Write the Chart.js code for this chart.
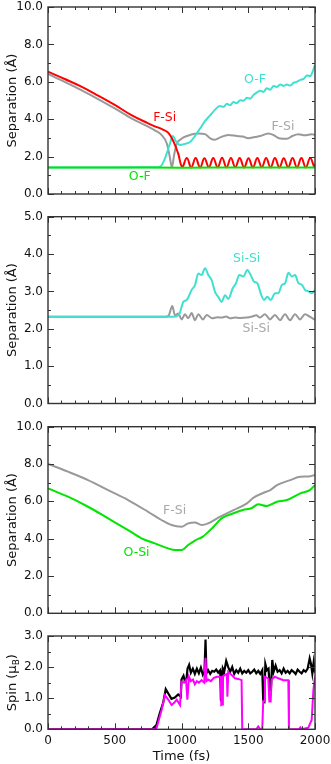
<!DOCTYPE html>
<html>
<head>
<meta charset="utf-8">
<script src="https://cdn.jsdelivr.net/npm/chart.js@4.4.1/dist/chart.umd.min.js"></script>
<style>
html, body { margin: 0; padding: 0; background: #fff; }
#wrap { position: relative; width: 331px; height: 764px; }
#wrap canvas { position: absolute; left: 0; top: 0; }
</style>
</head>
<body>
<div id="wrap">
  <canvas id="c1" width="331" height="764"></canvas>
  <canvas id="c2" width="331" height="764"></canvas>
  <canvas id="c3" width="331" height="764"></canvas>
  <canvas id="c4" width="331" height="764"></canvas>
</div>
<script>
// [time (fs), value] pairs

// panel 1: separations (Å)
const fSiRed = [[0,6.54],[125,6.15],[250,5.74],[375,5.26],[500,4.76],[625,4.22],[750,3.78],[800,3.62],[850,3.48],[900,3.28],[940,2.8],[975,2.17],[1005,1.45],
  [1040,1.92],[1073,1.42],[1106,1.93],[1139,1.42],[1172,1.91],[1205,1.43],[1238,1.93],[1271,1.42],[1304,1.94],[1337,1.42],[1370,1.92],[1403,1.43],
  [1436,1.93],[1469,1.42],[1502,1.91],[1535,1.42],[1568,1.93],[1601,1.43],[1634,1.92],[1667,1.42],[1700,1.93],[1733,1.42],[1766,1.91],[1799,1.43],
  [1832,1.92],[1865,1.42],[1898,1.93],[1931,1.42],[1964,1.92],[1995,1.45],[2000,1.6]];
const fSiGray = [[0,6.42],[125,6.0],[250,5.56],[375,5.08],[500,4.58],[625,4.05],[750,3.6],[800,3.4],[850,3.16],[890,2.7],[912,2.0],[928,1.42],
  [945,2.1],[965,2.7],[990,2.9],[1015,3.03],[1065,3.16],[1125,3.24],[1175,3.2],[1215,2.98],[1250,2.9],[1290,3.03],[1350,3.16],[1415,3.1],[1460,3.07],
  [1500,2.98],[1550,3.05],[1590,3.1],[1650,3.24],[1690,3.15],[1730,2.98],[1790,2.95],[1830,3.1],[1875,3.2],[1925,3.14],[1975,3.2],[2000,3.16]];
const oFCyan = [[0,1.42],[500,1.42],[800,1.43],[840,1.46],[876,1.9],[914,2.71],[935,3.1],[960,2.8],[989,2.62],[1026,2.68],[1064,2.78],[1101,3.1],
  [1139,3.5],[1176,3.9],[1214,4.2],[1250,4.5],[1288,4.7],[1314,4.66],[1340,4.82],[1365,4.75],[1389,4.92],[1414,4.86],[1440,5.02],[1464,4.98],
  [1490,5.15],[1515,5.1],[1540,5.3],[1563,5.42],[1590,5.52],[1615,5.46],[1638,5.65],[1665,5.58],[1690,5.78],[1713,5.72],[1740,5.86],[1765,5.78],
  [1788,5.85],[1815,5.8],[1840,5.95],[1863,6.0],[1890,6.1],[1915,6.16],[1940,6.34],[1965,6.3],[1985,6.6],[2000,6.9]];
const oFGreen = [[0,1.42],[500,1.42],[1000,1.41],[1500,1.42],[2000,1.42]];

// panel 2: Si-Si separations (Å)
const siSiCyan = [[0,2.32],[900,2.32],[960,2.33],[985,2.4],[1014,2.72],[1039,2.77],[1076,3.04],[1101,3.17],[1126,3.48],[1151,3.44],[1176,3.62],
  [1201,3.44],[1226,3.3],[1251,2.99],[1276,2.85],[1301,2.72],[1326,2.9],[1351,2.8],[1383,3.08],[1408,3.22],[1433,3.44],[1463,3.4],[1493,3.57],
  [1518,3.44],[1543,3.26],[1568,3.22],[1593,2.95],[1618,2.77],[1643,2.86],[1668,2.77],[1701,2.95],[1726,2.95],[1751,3.17],[1776,3.22],[1801,3.5],
  [1826,3.4],[1851,3.44],[1876,3.22],[1901,3.18],[1926,3.04],[1951,3.0],[1976,2.95],[2000,3.04]];
const siSiGray = [[0,2.32],[880,2.32],[905,2.36],[931,2.61],[951,2.36],[976,2.41],[1001,2.25],[1026,2.39],[1051,2.28],[1076,2.42],[1101,2.23],
  [1126,2.39],[1160,2.25],[1189,2.37],[1230,2.28],[1270,2.31],[1301,2.3],[1335,2.33],[1363,2.28],[1400,2.3],[1440,2.29],[1488,2.3],[1530,2.33],
  [1560,2.36],[1588,2.3],[1625,2.39],[1663,2.25],[1700,2.37],[1738,2.23],[1775,2.39],[1813,2.23],[1850,2.39],[1888,2.25],[1925,2.39],[1963,2.32],[2000,2.24]];

// panel 3: separations (Å)
const fSi3Gray = [[0,8.0],[150,7.59],[300,7.14],[450,6.6],[600,6.07],[750,5.44],[850,5.0],[925,4.73],[1000,4.64],[1050,4.82],[1100,4.87],
  [1150,4.73],[1200,4.82],[1290,5.18],[1390,5.53],[1490,5.89],[1540,6.2],[1615,6.46],[1665,6.6],[1715,6.87],[1815,7.14],[1890,7.32],[1950,7.33],[2000,7.41]];
const oSiGreen = [[0,6.69],[150,6.25],[300,5.71],[450,5.09],[600,4.46],[700,4.02],[800,3.75],[900,3.48],[950,3.39],[1000,3.39],[1050,3.66],
  [1100,3.9],[1160,4.11],[1240,4.64],[1300,5.09],[1390,5.36],[1460,5.54],[1525,5.63],[1575,5.84],[1640,5.75],[1715,5.98],[1790,6.07],[1890,6.43],[1960,6.6],[2000,6.87]];

// panel 4: spin (μB)
const spinBlack = [[0,0],[780,0],[812,0.14],[837,0.51],[862,0.84],[882,1.29],[900,1.16],[925,0.98],[950,1.02],[975,1.12],[995,1.05],[1000,1.6],
  [1015,1.72],[1025,1.55],[1037,1.6],[1045,1.95],[1057,2.07],[1070,1.82],[1085,1.95],[1100,1.78],[1115,1.95],[1130,1.8],[1145,1.98],[1160,1.75],
  [1172,1.85],[1180,2.89],[1187,1.8],[1200,1.9],[1215,1.78],[1230,1.88],[1245,1.85],[1260,1.92],[1275,1.82],[1290,1.9],[1295,0.94],[1303,0.9],
  [1310,1.95],[1320,1.85],[1335,2.2],[1350,2.0],[1365,1.85],[1380,2.0],[1395,1.78],[1410,1.9],[1425,1.82],[1440,1.95],[1455,1.8],[1470,1.88],
  [1485,1.82],[1500,1.9],[1515,1.8],[1530,1.85],[1545,1.92],[1560,1.8],[1575,1.88],[1590,1.78],[1605,1.9],[1612,0.94],[1620,0.9],[1628,2.1],
  [1640,1.9],[1652,1.95],[1662,1.26],[1670,1.3],[1680,2.23],[1690,1.85],[1705,2.05],[1720,1.85],[1735,1.9],[1750,1.8],[1765,1.95],[1780,1.82],
  [1795,1.88],[1810,1.8],[1825,1.9],[1840,1.85],[1855,1.78],[1870,1.92],[1885,1.85],[1900,1.8],[1915,1.9],[1930,1.85],[1945,1.95],[1960,2.28],
  [1970,2.1],[1980,1.8],[1990,2.15],[2000,1.82]];
const spinMagenta = [[0,0],[790,0],[814,0.05],[851,0.62],[876,1.1],[901,0.95],[926,0.78],[945,0.85],[964,0.95],[989,0.78],[1000,1.53],[1020,1.5],
  [1034,1.58],[1044,0.95],[1056,1.69],[1070,1.55],[1086,1.6],[1100,1.45],[1115,1.55],[1130,1.5],[1150,1.58],[1170,1.5],[1180,2.3],[1187,1.55],
  [1200,1.6],[1220,1.55],[1240,1.65],[1264,1.69],[1294,1.69],[1298,0.78],[1306,0.8],[1310,1.7],[1325,1.74],[1340,1.78],[1344,1.05],[1350,1.85],
  [1375,1.75],[1400,1.64],[1425,1.62],[1450,1.58],[1455,0],[1560,0],[1575,0.09],[1590,0],[1605,0],[1612,0.9],[1618,0.9],[1625,1.69],[1650,1.64],
  [1658,0.89],[1668,0.89],[1675,1.6],[1700,1.69],[1725,1.64],[1763,1.58],[1800,1.58],[1805,0],[1880,0],[1890,0.06],[1900,0],[1950,0.05],
  [1975,0.3],[1988,1.26],[2000,1.69]];

// in-plot labels: [text, time, value, colour]
const tags1 = [['F-Si', 874, 4.1, '#ff0000'], ['O-F', 1551, 6.1, '#40e0d0'], ['F-Si', 1760, 3.57, '#a8a8a8'], ['O-F', 687, 0.93, '#00e600']];
const tags2 = [['Si-Si', 1488, 3.87, '#40e0d0'], ['Si-Si', 1560, 1.99, '#a8a8a8']];
const tags3 = [['F-Si', 948, 5.48, '#a8a8a8'], ['O-Si', 663, 3.25, '#00e600']];

const W = 331, H = 764;
Chart.defaults.font.family = "'DejaVu Sans', sans-serif";
Chart.defaults.color = '#111';

const pts = arr => arr.map(([x, y]) => ({ x, y }));

function line(arr, color, smooth, width) {
    return {
        data: pts(arr),
        borderColor: color,
        borderWidth: width || 2,
        pointRadius: 0,
        fill: false,
        cubicInterpolationMode: smooth === 'monotone' ? 'monotone' : 'default',
        tension: typeof smooth === 'number' ? smooth : 0
    };
}

// box round the plot with inward ticks on all four sides
const framePlugin = {
    id: 'frame',
    afterDatasetsDraw(chart, args, o) {
        const { ctx, chartArea: a, scales: { x, y } } = chart;
        ctx.save();
        ctx.strokeStyle = '#333';
        ctx.lineWidth = 1;
        ctx.beginPath();
        for (let t = 0; t <= 2000; t += 100) {
            const px = Math.round(x.getPixelForValue(t)) + 0.5;
            const len = t % 500 === 0 ? 6 : 3;
            ctx.moveTo(px, a.bottom); ctx.lineTo(px, a.bottom - len);
            ctx.moveTo(px, a.top); ctx.lineTo(px, a.top + len);
        }
        for (let i = 0; i * o.minor <= y.max + 1e-9; i++) {
            const py = Math.round(y.getPixelForValue(i * o.minor)) + 0.5;
            const len = i % o.every === 0 ? 6 : 3;
            ctx.moveTo(a.left, py); ctx.lineTo(a.left + len, py);
            ctx.moveTo(a.right, py); ctx.lineTo(a.right - len, py);
        }
        ctx.stroke();
        ctx.lineWidth = 1.4;
        ctx.strokeRect(a.left, a.top, a.right - a.left, a.bottom - a.top);
        ctx.restore();
    }
};

const tagPlugin = {
    id: 'tags',
    afterDatasetsDraw(chart, args, o) {
        const { ctx, scales: { x, y } } = chart;
        ctx.save();
        ctx.font = "12.5px 'DejaVu Sans'";
        ctx.textAlign = 'center';
        ctx.textBaseline = 'middle';
        (o.items || []).forEach(([text, t, v, color]) => {
            ctx.fillStyle = color;
            ctx.fillText(text, x.getPixelForValue(t), y.getPixelForValue(v));
        });
        if (o.spinTitle) {
            // y title with a real subscript B
            const a = chart.chartArea;
            ctx.translate(12.8, (a.top + a.bottom) / 2);
            ctx.rotate(-Math.PI / 2);
            ctx.fillStyle = '#111';
            ctx.textAlign = 'left';
            ctx.font = "13px 'DejaVu Sans'";
            const w1 = ctx.measureText('Spin (μ').width;
            const w3 = ctx.measureText(')').width;
            ctx.font = "9px 'DejaVu Sans'";
            const w2 = ctx.measureText('B').width;
            let sx = -(w1 + w2 + w3) / 2;
            ctx.font = "13px 'DejaVu Sans'";
            ctx.fillText('Spin (μ', sx, 0);
            ctx.font = "9px 'DejaVu Sans'";
            ctx.fillText('B', sx + w1, 3.5);
            ctx.font = "13px 'DejaVu Sans'";
            ctx.fillText(')', sx + w1 + w2, 0);
        }
        ctx.restore();
    }
};

function makePanel(id, cfg) {
    return new Chart(document.getElementById(id), {
        type: 'line',
        data: { datasets: cfg.datasets },
        options: {
            responsive: false,
            animation: false,
            events: [],
            layout: { padding: { left: 0, right: 16, top: cfg.top, bottom: cfg.showX ? 0 : H - cfg.bottom } },
            plugins: {
                legend: { display: false },
                tooltip: { enabled: false },
                frame: { minor: cfg.minor, every: cfg.every },
                tags: { items: cfg.tags, spinTitle: cfg.spinTitle }
            },
            scales: {
                x: {
                    type: 'linear', min: 0, max: 2000,
                    grid: { display: false, drawTicks: false },
                    border: { display: false },
                    ticks: { display: !!cfg.showX, stepSize: 500, padding: 4, maxRotation: 0, font: { size: 12 }, callback: v => String(v) },
                    title: { display: !!cfg.showX, text: 'Time (fs)', font: { size: 13 }, padding: { top: 0, bottom: 0 } },
                    afterFit: s => { s.height = cfg.showX ? H - cfg.bottom : 0; s.paddingLeft = 0; s.paddingRight = 0; }
                },
                y: {
                    type: 'linear', min: 0, max: cfg.ymax,
                    grid: { display: false, drawTicks: false },
                    border: { display: false },
                    ticks: { stepSize: cfg.ystep, padding: 5, font: { size: 12 }, callback: v => v.toFixed(1) },
                    title: { display: !cfg.spinTitle, text: 'Separation (Å)', font: { size: 13 }, padding: { top: 5, bottom: 0 } },
                    afterFit: s => { s.width = 48; s.paddingTop = 0; s.paddingBottom = 0; }
                }
            }
        },
        plugins: [framePlugin, tagPlugin]
    });
}

makePanel('c1', {
    top: 7, bottom: 194, ymax: 10, ystep: 2, minor: 1, every: 2, tags: tags1,
    datasets: [
        line(oFGreen, '#00e600', 'monotone'),
        line(fSiRed, '#ff0000', 0.4),
        line(oFCyan, '#40e0d0', 'monotone'),
        line(fSiGray, '#999999', 'monotone')
    ]
});

makePanel('c2', {
    top: 216.7, bottom: 403.5, ymax: 5, ystep: 1, minor: 0.5, every: 2, tags: tags2,
    datasets: [
        line(siSiCyan, '#40e0d0', 'monotone'),
        line(siSiGray, '#999999', 'monotone')
    ]
});

makePanel('c3', {
    top: 426.7, bottom: 613.3, ymax: 10, ystep: 2, minor: 1, every: 2, tags: tags3,
    datasets: [
        line(oSiGreen, '#00e600', 'monotone'),
        line(fSi3Gray, '#999999', 'monotone')
    ]
});

makePanel('c4', {
    top: 636, bottom: 729.3, ymax: 3, ystep: 1, minor: 0.5, every: 2, showX: true, spinTitle: true, tags: [],
    datasets: [
        line(spinMagenta, '#ff00ff', false, 2),
        line(spinBlack, '#000000', false, 2.2)
    ]
});
</script>
</body>
</html>
